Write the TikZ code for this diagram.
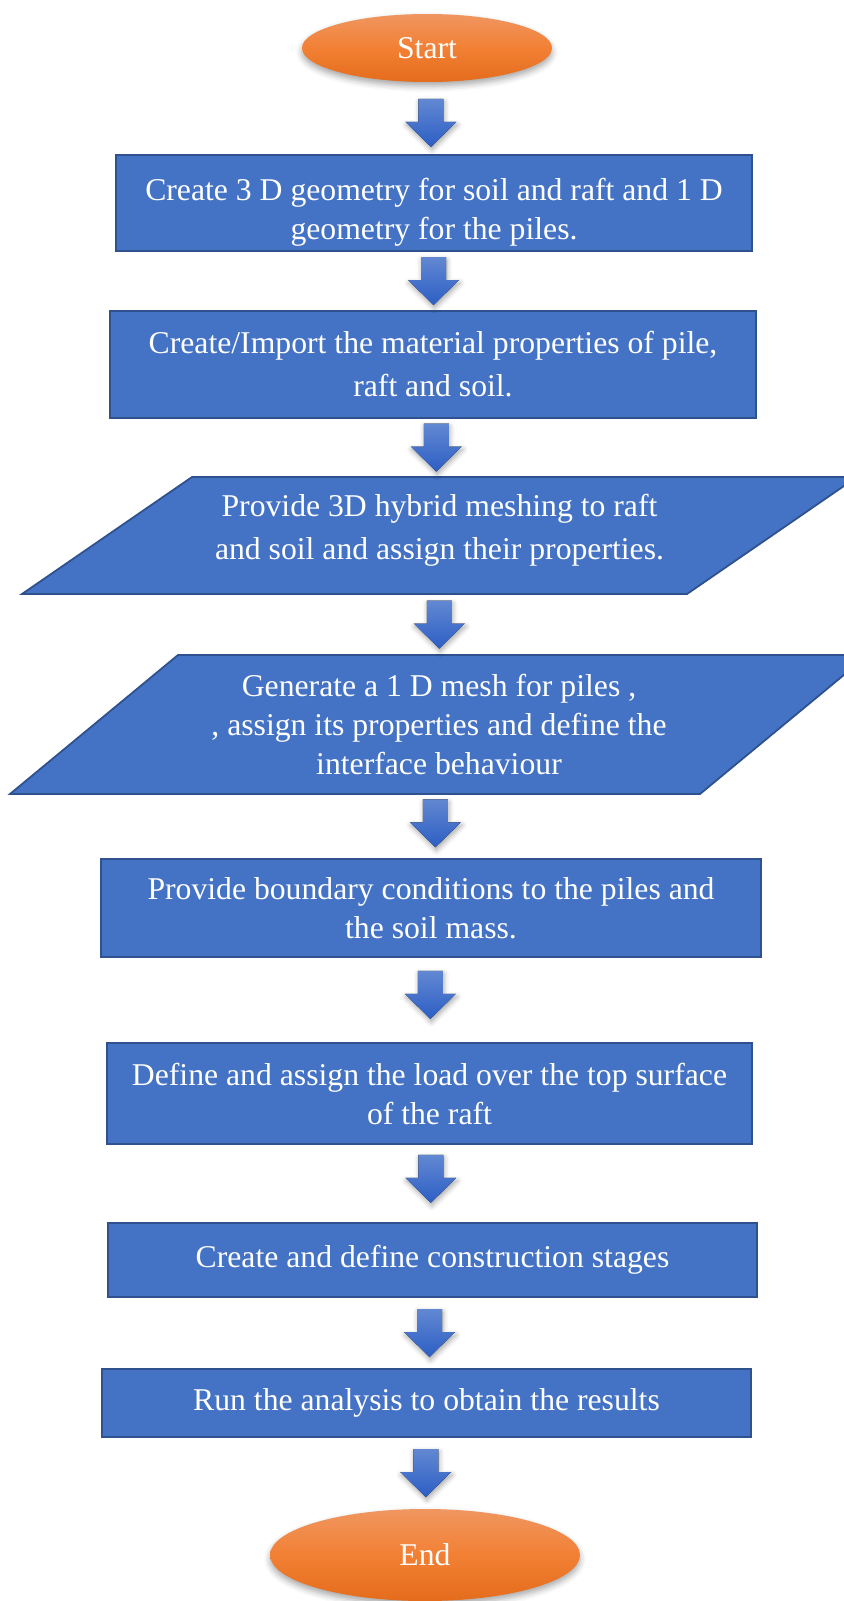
\documentclass[tikz,border=0pt]{standalone}
\usepackage{fontspec}
\setmainfont{Liberation Serif}
\usepackage{xcolor}
\definecolor{boxblue}{RGB}{68, 114, 196}
\definecolor{boxedge}{RGB}{47,  82, 143}
\definecolor{arrowtop}{RGB}{98, 136, 210}
\definecolor{arrowbot}{RGB}{44,  94, 196}
\definecolor{orangetop}{RGB}{240, 150, 96}
\definecolor{orangemid}{RGB}{242, 128, 52}
\definecolor{orangebot}{RGB}{228, 108, 28}
\usepackage{tikz}
\usetikzlibrary{
  shapes.geometric, arrows.meta, positioning,
  calc, shadows.blur
}

\begin{document}
\begin{tikzpicture}[x=0.5pt, y=-0.5pt,
    every node/.style={font=\fontsize{15.85}{19.5}\selectfont, text=white, align=center, outer sep=0pt},
    terminal/.style={ellipse, inner sep=0pt, top color=orangetop, bottom color=orangebot, middle color=orangemid,
      blur shadow={shadow xshift=0pt, shadow yshift=-2pt, shadow blur radius=3pt, shadow opacity=35}},
    process/.style={rectangle, fill=boxblue, draw=boxedge, line width=0.9pt, inner sep=0pt},
    inputtext/.style={rectangle, inner sep=0pt},
    inputbox/.style={fill=boxblue, draw=boxedge, line width=0.9pt},
    downarrow/.pic={
      \fill[top color=arrowtop, bottom color=arrowbot,
        blur shadow={shadow xshift=0.5pt, shadow yshift=-1.5pt, shadow blur radius=2.5pt, shadow opacity=35}]
        (-6.25pt,12pt) -- (6.25pt,12pt) -- (6.25pt,0.5pt) -- (12.75pt,0.5pt)
        -- (0pt,-12pt) -- (-12.75pt,0.5pt) -- (-6.25pt,0.5pt) -- cycle;
    }
  ]
  \useasboundingbox (0,0) rectangle (843,1601);

  \coordinate (hybridc) at (439.5,535.5);
  \coordinate (pilemeshc) at (439,724.5);
  \filldraw[inputbox] (hybridc) ++(-247.5,-58.5) -- ++(665,0) -- ++(-170,117) -- ++(-665,0) -- cycle;
  \filldraw[inputbox] (pilemeshc) ++(-261,-69.5) -- ++(690,0) -- ++(-168,139) -- ++(-690,0) -- cycle;

  \node[terminal, minimum width=125pt, minimum height=34pt] (start) at (427,48) {Start};
  \node[process, minimum width=318pt, minimum height=48pt] (geometry) at (434,203)
    {\rule{0pt}{20pt}Create 3 D geometry for soil and raft and 1 D\\geometry for the piles.};
  \node[process, minimum width=323pt, minimum height=53.5pt] (material) at (433,364.5)
    {Create/Import the material properties of pile,\\[2pt]raft and soil.};
  \node[inputtext, minimum width=332.5pt, minimum height=58.5pt] (hybrid) at (hybridc)
    {Provide 3D hybrid meshing to raft\\[2pt]and soil and assign their properties.\rule[-8.5pt]{0pt}{8.5pt}};
  \node[inputtext, minimum width=345pt, minimum height=69.5pt] (pilemesh) at (pilemeshc)
    {Generate a 1 D mesh for piles ,\\, assign its properties and define the\\interface behaviour};
  \node[process, minimum width=330pt, minimum height=49pt] (boundary) at (431,908)
    {Provide boundary conditions to the piles and\\the soil mass.};
  \node[process, minimum width=322.5pt, minimum height=50.5pt] (load) at (429.5,1093.5)
    {Define and assign the load over the top surface\\of the raft};
  \node[process, minimum width=324.5pt, minimum height=37pt] (stages) at (432.5,1260)
    {Create and define construction stages};
  \node[process, minimum width=324.5pt, minimum height=34pt] (analysis) at (426.5,1403)
    {Run the analysis to obtain the results};
  \node[terminal, minimum width=155pt, minimum height=46pt] (end) at (425,1555) {End};

  \pic at ($(start.south)!0.56!(geometry.north)$) {downarrow};
  \pic at ($(geometry.south)!0.5!(material.north)$) {downarrow};
  \pic at ($(material.south)!0.5!(hybrid.north)$) {downarrow};
  \pic at ($(hybrid.south)!0.5!(pilemesh.north)$) {downarrow};
  \pic at ($(pilemesh.south)!0.45!(boundary.north)$) {downarrow};
  \pic at ($(boundary.south)!0.44!(load.north)$) {downarrow};
  \pic at ($(load.south)!0.44!(stages.north)$) {downarrow};
  \pic at ($(stages.south)!0.5!(analysis.north)$) {downarrow};
  \pic at ($(analysis.south)!0.5!(end.north)$) {downarrow};
\end{tikzpicture}
\end{document}
